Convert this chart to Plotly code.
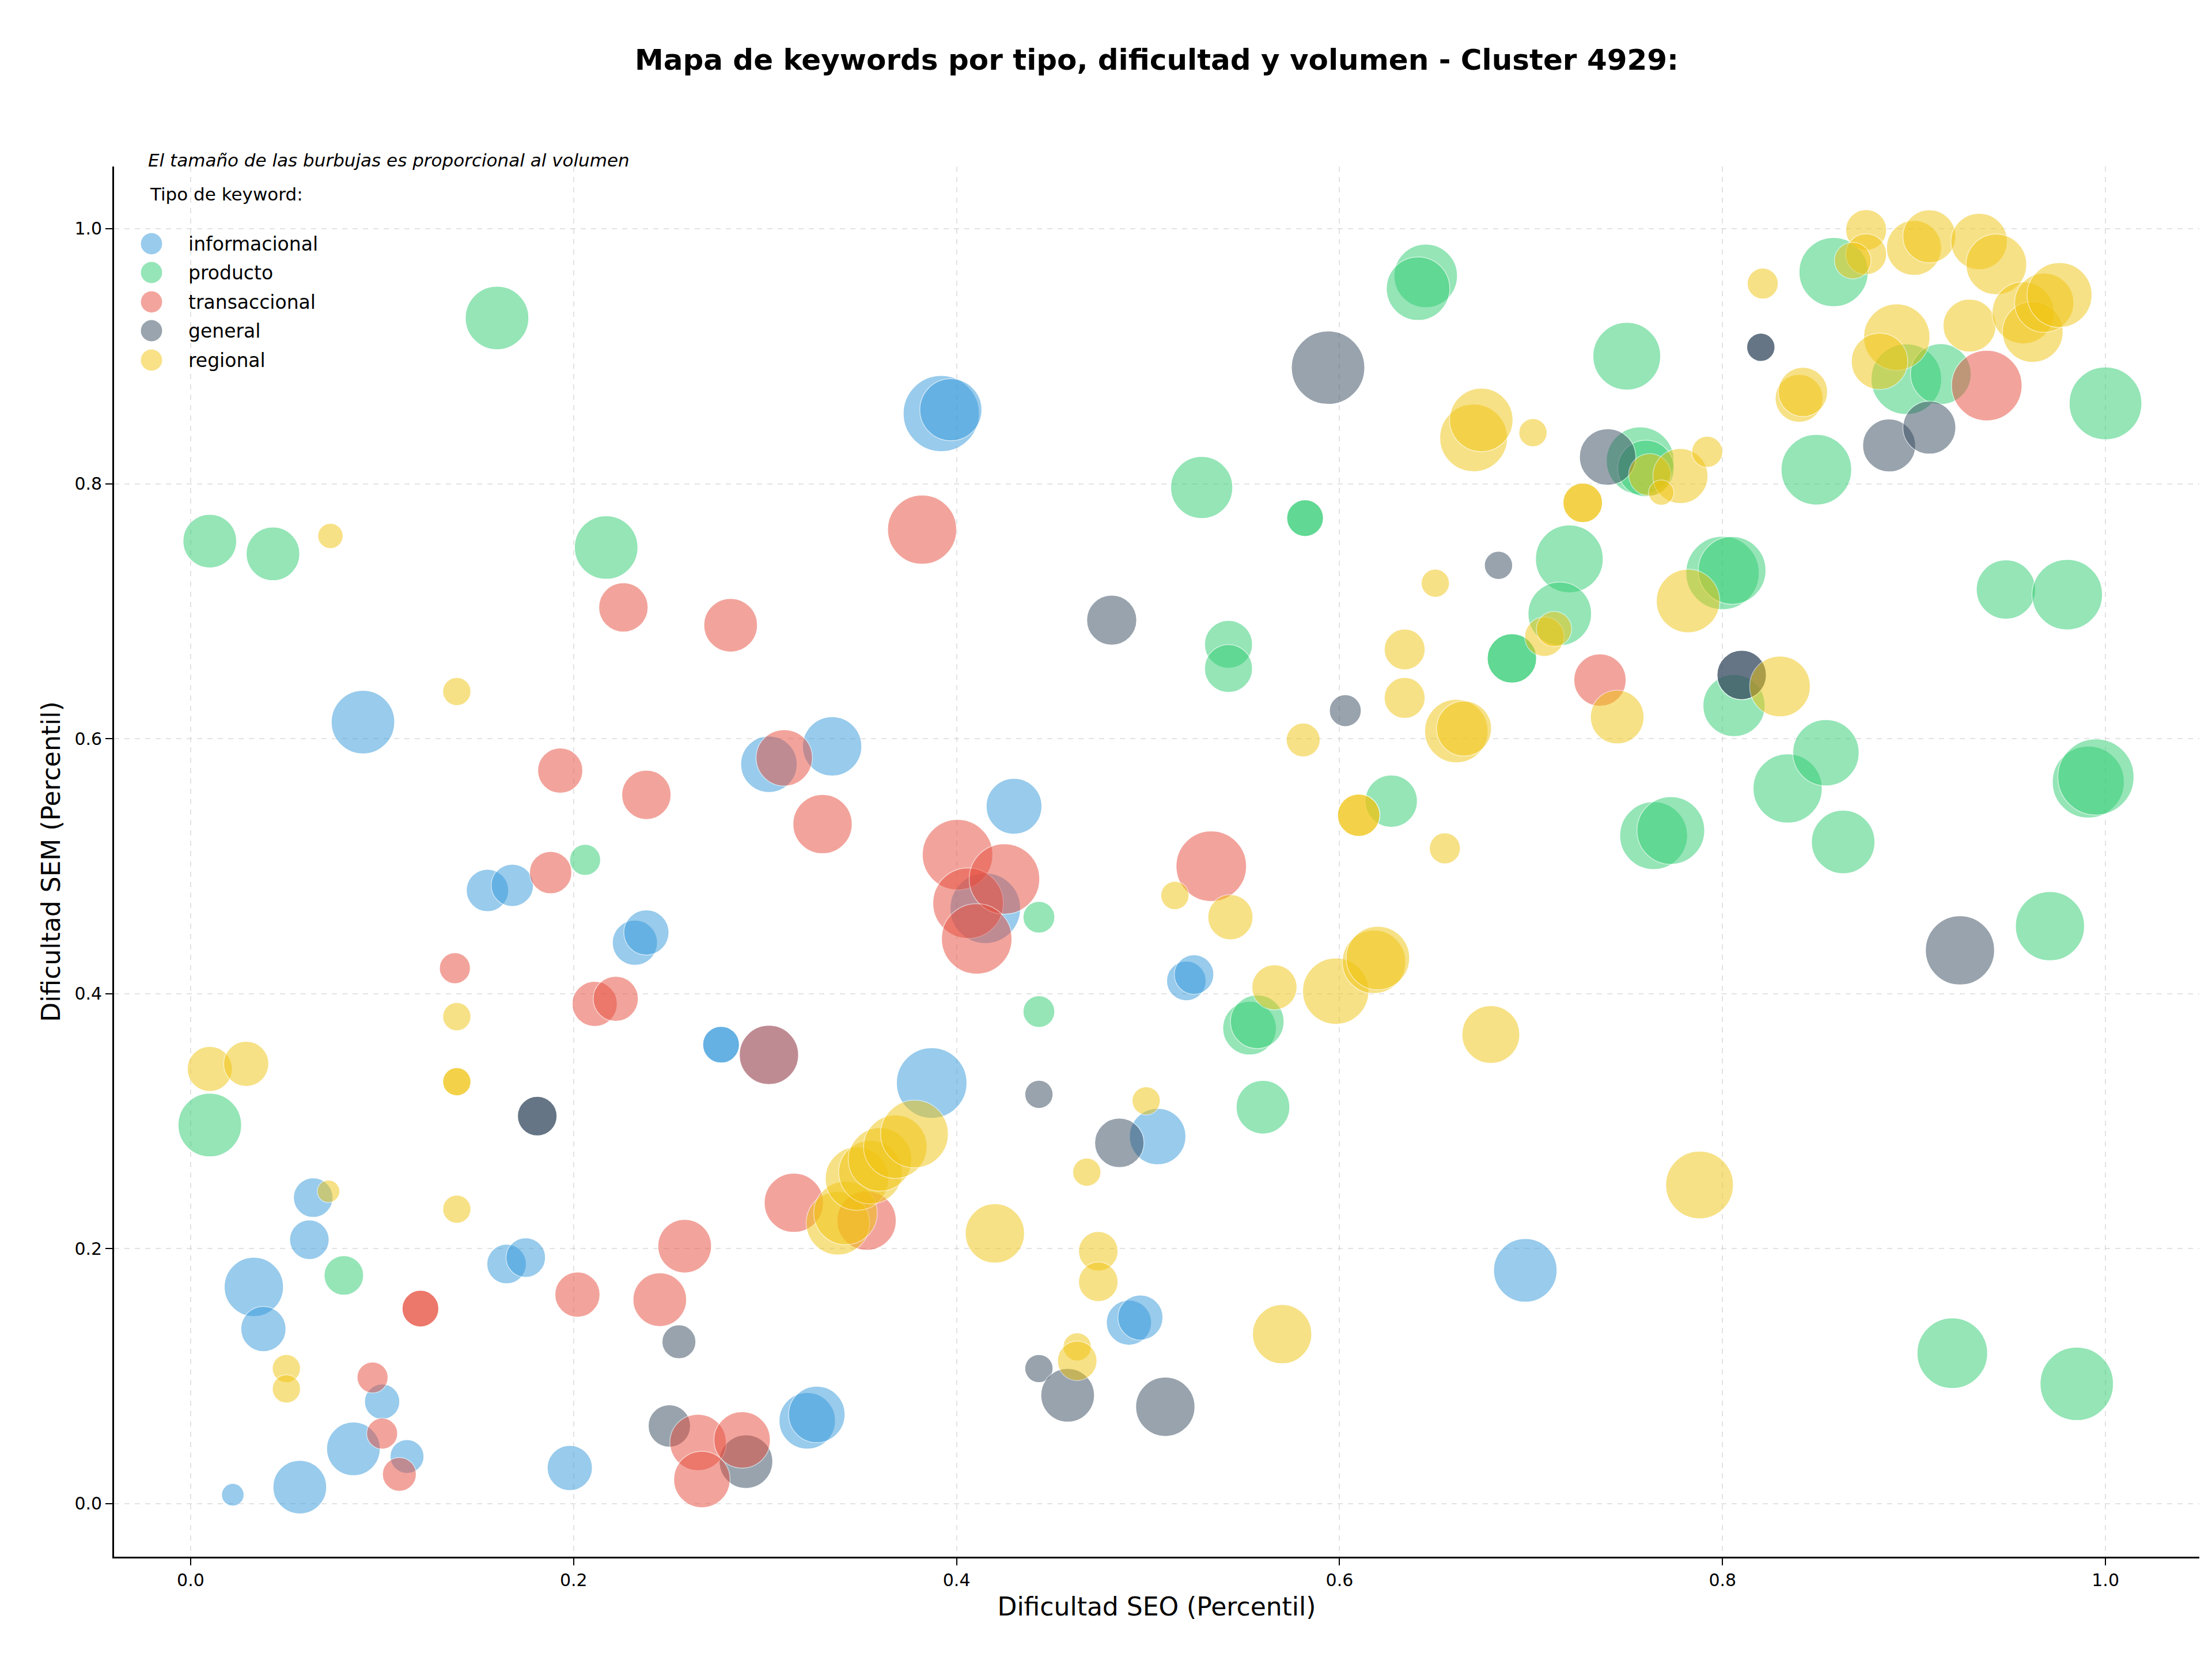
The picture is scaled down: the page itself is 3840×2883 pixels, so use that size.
import numpy as np
import plotly.graph_objects as go

# ---------------- data ----------------
tipos = ["informacional", "producto", "transaccional", "general", "regional"]
colores = ["#3498db", "#2ecc71", "#e74c3c", "#34495e", "#f1c40f"]
# drawing order observed in the reference (general below transaccional)
orden_dibujo = ["informacional", "producto", "general", "transaccional", "regional"]

info_x = [0.392, 0.397, 0.090, 0.335, 0.302, 0.430, 0.155, 0.168, 0.232, 0.238, 0.520, 0.524, 0.277, 0.277,
          0.387, 0.064, 0.062, 0.165, 0.175, 0.033, 0.038, 0.100, 0.113, 0.085, 0.057, 0.022, 0.198, 0.322,
          0.327, 0.490, 0.496, 0.505, 0.697, 0.415, 0.302]
info_y = [0.855, 0.858, 0.613, 0.594, 0.580, 0.547, 0.481, 0.485, 0.440, 0.448, 0.410, 0.415, 0.360, 0.360,
          0.330, 0.240, 0.207, 0.188, 0.193, 0.170, 0.137, 0.080, 0.037, 0.043, 0.013, 0.007, 0.028, 0.065,
          0.070, 0.142, 0.146, 0.288, 0.183, 0.467, 0.352]
info_vol = [2916, 1936, 2025, 1764, 1600, 1560, 900, 900, 1024, 1024, 784, 784, 676, 676,
            2500, 784, 784, 784, 784, 1764, 1024, 625, 576, 1444, 1444, 256, 1024, 1600,
            1600, 1024, 1024, 1600, 2025, 2500, 1764]

prod_x = [0.160, 0.010, 0.043, 0.217, 0.206, 0.010, 0.080, 0.443, 0.443, 0.528, 0.582, 0.582, 0.542, 0.542,
          0.553, 0.557, 0.560, 0.627, 0.645, 0.641, 0.690, 0.690, 0.720, 0.715, 0.750, 0.757, 0.760,
          0.764, 0.773, 0.800, 0.805, 0.806, 0.834, 0.849, 0.854, 0.858, 0.863, 0.896, 0.914,
          0.920, 0.948, 0.971, 0.980, 0.985, 0.991, 0.995, 1.000]
prod_y = [0.930, 0.755, 0.745, 0.750, 0.505, 0.297, 0.179, 0.460, 0.386, 0.797, 0.773, 0.773, 0.674, 0.655,
          0.373, 0.378, 0.311, 0.551, 0.963, 0.953, 0.663, 0.663, 0.741, 0.698, 0.900, 0.818, 0.812,
          0.524, 0.528, 0.730, 0.732, 0.626, 0.561, 0.811, 0.589, 0.966, 0.519, 0.882, 0.886,
          0.118, 0.717, 0.453, 0.713, 0.094, 0.566, 0.570, 0.863]
prod_vol = [2025, 1444, 1444, 2025, 484, 2025, 784, 506, 506, 1936, 676, 676, 1156, 1156,
            1444, 1444, 1444, 1369, 2025, 2025, 1225, 1225, 2304, 2025, 2304, 2304, 1600,
            2304, 2304, 2704, 2304, 1936, 2401, 2500, 2209, 2401, 2025, 2500, 1849,
            2500, 1764, 2401, 2500, 2704, 2601, 2916, 2652]

tran_x = [0.382, 0.226, 0.282, 0.193, 0.310, 0.238, 0.330, 0.188, 0.138, 0.211, 0.222, 0.302, 0.4005, 0.406,
          0.425, 0.4105, 0.533, 0.315, 0.353, 0.258, 0.202, 0.245, 0.120, 0.120, 0.095, 0.100, 0.109,
          0.265, 0.288, 0.267, 0.736, 0.938]
tran_y = [0.764, 0.703, 0.689, 0.575, 0.585, 0.556, 0.533, 0.495, 0.420, 0.392, 0.396, 0.352, 0.509, 0.471,
          0.490, 0.443, 0.500, 0.236, 0.222, 0.202, 0.164, 0.160, 0.153, 0.153, 0.099, 0.055, 0.023,
          0.048, 0.050, 0.019, 0.646, 0.877]
tran_vol = [2401, 1225, 1444, 1024, 1600, 1225, 1764, 900, 484, 1024, 1024, 1764, 2500, 2500,
            2500, 2500, 2500, 1764, 1764, 1444, 1024, 1444, 676, 676, 484, 484, 576,
            1600, 1600, 1600, 1369, 2500]

gen_x = [0.594, 0.481, 0.181, 0.181, 0.255, 0.250, 0.290, 0.443, 0.443, 0.458, 0.485, 0.509, 0.603, 0.683,
         0.740, 0.810, 0.810, 0.820, 0.820, 0.887, 0.908, 0.924]
gen_y = [0.891, 0.693, 0.304, 0.304, 0.127, 0.061, 0.033, 0.321, 0.106, 0.085, 0.283, 0.076, 0.622, 0.736,
         0.821, 0.650, 0.650, 0.907, 0.907, 0.830, 0.844, 0.434]
gen_vol = [2704, 1260, 784, 784, 576, 900, 1444, 400, 400, 1444, 1225, 1764, 510, 400,
           1600, 1225, 1225, 400, 400, 1406, 1406, 2401]

reg_x = [0.073, 0.139, 0.139, 0.139, 0.139, 0.139, 0.010, 0.029, 0.072, 0.050, 0.050, 0.338, 0.342, 0.348,
         0.355, 0.360, 0.368, 0.378, 0.420, 0.468, 0.474, 0.474, 0.463, 0.463, 0.499, 0.514, 0.543,
         0.566, 0.570, 0.581, 0.598, 0.610, 0.610, 0.618, 0.620, 0.634, 0.634, 0.650, 0.655, 0.661,
         0.665, 0.670, 0.674, 0.679, 0.701, 0.707, 0.712, 0.727, 0.727, 0.745, 0.762, 0.778, 0.768,
         0.782, 0.788, 0.792, 0.821, 0.830, 0.840, 0.842, 0.875, 0.875, 0.868, 0.891, 0.882, 0.900, 0.908,
         0.929, 0.934, 0.943, 0.957, 0.962, 0.968, 0.976]
reg_y = [0.759, 0.637, 0.382, 0.331, 0.331, 0.231, 0.341, 0.345, 0.245, 0.106, 0.090, 0.220, 0.228, 0.255,
         0.260, 0.270, 0.280, 0.290, 0.212, 0.260, 0.198, 0.174, 0.123, 0.112, 0.316, 0.477, 0.460,
         0.405, 0.133, 0.599, 0.402, 0.540, 0.540, 0.425, 0.428, 0.670, 0.632, 0.722, 0.514, 0.606,
         0.608, 0.836, 0.850, 0.368, 0.840, 0.680, 0.686, 0.785, 0.785, 0.617, 0.807, 0.806, 0.793,
         0.708, 0.250, 0.825, 0.957, 0.641, 0.867, 0.872, 0.999, 0.980, 0.975, 0.915, 0.896, 0.985, 0.994,
         0.924, 0.990, 0.972, 0.934, 0.919, 0.942, 0.948]
reg_vol = [324, 400, 400, 400, 400, 400, 1024, 1024, 256, 400, 400, 2025, 2025, 2025,
           2025, 2025, 2025, 2304, 1764, 400, 784, 784, 400, 784, 400, 400, 1024,
           1024, 1764, 576, 2209, 900, 900, 2025, 2025, 841, 841, 400, 484, 2025,
           1521, 2304, 2025, 1681, 400, 784, 625, 784, 784, 1444, 900, 1521, 324,
           2025, 2304, 484, 484, 1849, 1156, 1225, 841, 841, 676, 2209, 1600, 1521, 1406,
           1406, 1600, 1849, 1936, 1849, 1764, 2116]

series = {
    "informacional": (info_x, info_y, info_vol),
    "producto": (prod_x, prod_y, prod_vol),
    "transaccional": (tran_x, tran_y, tran_vol),
    "general": (gen_x, gen_y, gen_vol),
    "regional": (reg_x, reg_y, reg_vol),
}

titulo = "Mapa de keywords por tipo, dificultad y volumen - Cluster 4929:"
nota = "El tamaño de las burbujas es proporcional al volumen"
leyenda_titulo = "Tipo de keyword:"
x_label = "Dificultad SEO (Percentil)"
y_label = "Dificultad SEM (Percentil)"
ticks = [0.0, 0.2, 0.4, 0.6, 0.8, 1.0]

# ---------------- figure ----------------
W, H = 3840, 2883
L, R, T, B = 198, 22, 289, 181
PW, PH = W - L - R, H - T - B
FONT = "DejaVu Sans"
SCALE = 2.449
color_de = dict(zip(tipos, colores))

fig = go.Figure()
for name in orden_dibujo:
    xs, ys, vs = series[name]
    fig.add_trace(go.Scatter(
        x=xs, y=ys, mode="markers", name=name, showlegend=False,
        marker=dict(size=[SCALE * np.sqrt(v) for v in vs], sizemode="diameter",
                    color=color_de[name], opacity=0.5, line=dict(color="white", width=1.5)),
    ))

def px_x(p):
    return (p - L) / PW

def px_y(p):
    return (H - B - p) / PH

shapes = []
annotations = []
rows = [423, 473, 524, 574, 625]
for name, col, ry in zip(tipos, colores, rows):
    shapes.append(dict(type="circle", xref="paper", yref="paper", xsizemode="pixel", ysizemode="pixel",
                       xanchor=px_x(263), yanchor=px_y(ry), x0=-18.5, x1=18.5, y0=-18.5, y1=18.5,
                       fillcolor=col, opacity=0.5, line=dict(width=0)))
    annotations.append(dict(text=name, x=px_x(325), y=px_y(ry), xref="paper", yref="paper",
                            xanchor="left", yanchor="middle", showarrow=False,
                            font=dict(family=FONT, size=33, color="black")))
annotations.append(dict(text=leyenda_titulo, x=px_x(258), y=px_y(337), xref="paper", yref="paper",
                        xanchor="left", yanchor="middle", showarrow=False,
                        font=dict(family=FONT, size=31, color="black")))
annotations.append(dict(text="<i>" + nota + "</i>", x=px_x(255), y=px_y(278), xref="paper", yref="paper",
                        xanchor="left", yanchor="middle", showarrow=False,
                        font=dict(family=FONT, size=31, color="black")))

axis_common = dict(
    showline=True, linecolor="black", linewidth=2.7, mirror=False,
    ticks="outside", ticklen=12, tickwidth=2.2, tickcolor="black",
    tickvals=ticks, tickformat=".1f",
    tickfont=dict(family=FONT, size=30, color="black"),
    showgrid=True, gridcolor="rgba(200,200,200,0.5)", griddash="dash", gridwidth=2,
    zeroline=False,
)

fig.update_layout(
    width=W, height=H,
    margin=dict(l=L, r=R, t=T, b=B),
    paper_bgcolor="white", plot_bgcolor="white",
    title=dict(text="<b>" + titulo + "</b>", x=0.5, xref="paper", y=1 - 103 / H, yref="container",
               xanchor="center", yanchor="middle", font=dict(family=FONT, size=50, color="black")),
    xaxis=dict(range=[-0.040, 1.049], title=dict(text=x_label, standoff=15,
               font=dict(family=FONT, size=44, color="black")), **axis_common),
    yaxis=dict(range=[-0.0416, 1.0488], title=dict(text=y_label, standoff=12,
               font=dict(family=FONT, size=44, color="black")), **axis_common),
    shapes=shapes, annotations=annotations,
    showlegend=False,
)

fig.write_html("out.html")
